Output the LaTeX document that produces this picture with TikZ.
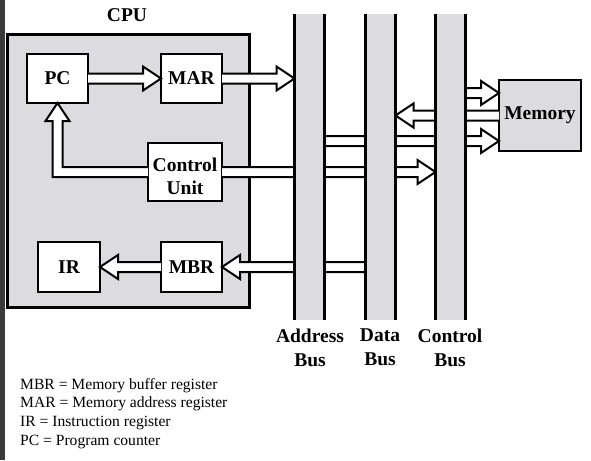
\documentclass[tikz,border=0pt]{standalone}
\usepackage{fontspec}
\setmainfont{Liberation Serif}
\usetikzlibrary{calc}
\definecolor{panel}{RGB}{220,219,223}
\definecolor{strip}{RGB}{58,58,58}
\newcommand\fatarrow[2]{%
  \filldraw[fatarr] let \p1=(#1), \p2=(#2),
    \n1={ifthenelse(\x2>\x1,\x2-18pt,\x2+18pt)} in
    (\x1,\y1+5pt) -- (\n1*1pt,\y1+5pt) -- (\n1*1pt,\y1+12pt) -- (\x2,\y1)
    -- (\n1*1pt,\y1-12pt) -- (\n1*1pt,\y1-5pt) -- (\x1,\y1-5pt);}
\begin{document}
\begin{tikzpicture}[x=1pt,y=-1pt,
  box/.style={draw=black, line width=2pt, fill=white, inner sep=0pt, outer sep=0pt},
  lbl/.style={font=\fontsize{19.5}{23}\selectfont\bfseries, inner sep=0pt},
  fatarr/.style={draw=black, fill=white, line width=2pt, line join=miter},
  busline/.style={draw=black, line width=3pt},
  busnode/.style={minimum width=30pt, minimum height=306pt, inner sep=0pt, outer sep=0pt},
  legend/.style={font=\fontsize{15.6}{18.7}\selectfont, inner sep=0pt, anchor=base west}]

\useasboundingbox (0,0) rectangle (591,460);
\fill[white] (0,0) rectangle (591,460);
\fill[strip] (0,0) rectangle (5,460);

% CPU
\node[draw=black, line width=3pt, fill=panel, minimum width=242pt, minimum height=272pt,
      inner sep=0pt, outer sep=0pt] (cpu) at (128,171) {};
\node[lbl] (cpulbl) at (127,15) {CPU};

% registers
\node[box, lbl, minimum width=61pt, minimum height=49pt] (pc) at (57.5,78.5) {PC};
\node[box, lbl, minimum width=61pt, minimum height=49pt] (mar) at (191.5,78.5) {MAR};
\node[box, minimum width=74pt, minimum height=58pt] (cu) at (185,172) {};
\node[lbl, align=center] (cutext) at (185,176) {Control\\Unit};
\node[box, lbl, minimum width=62pt, minimum height=50pt] (ir) at (69,267) {IR};
\node[box, lbl, minimum width=61pt, minimum height=50pt] (mbr) at (191.5,267) {MBR};

% memory
\node[box, lbl, fill=panel, minimum width=82pt, minimum height=71pt] (mem) at (540,115.5) {Memory};

% buses (geometry only)
\node[busnode] (abus) at (309.5,167) {};
\node[busnode] (dbus) at (380.5,167) {};
\node[busnode] (cbus) at (450.5,167) {};

% arrows
\fatarrow{pc.east}{mar.west}
\fatarrow{mar.east}{abus.west}
\fatarrow{mbr.west}{ir.east}
\fatarrow{dbus.west |- mbr.east}{mbr.east}
\fatarrow{cu.east}{cbus.west}
\fatarrow{$(cbus.east |- mem.west)+(0,-22.5)$}{mem.west}
\fatarrow{mem.west}{dbus.east}
\fatarrow{$(abus.east |- mem.west)+(0,25.5)$}{mem.west}
\filldraw[fatarr] let \p1=(cu.west), \p2=(pc.south) in
  (\x1,\y1+5pt) -- (\x2+5pt,\y1+5pt) -- (\x2+5pt,\y2-18pt) -- (\x2+12pt,\y2-18pt)
  -- (\x2,\y2) -- (\x2-12pt,\y2-18pt) -- (\x2-5pt,\y2-18pt) -- (\x2-5pt,\y1-5pt)
  -- (\x1,\y1-5pt);

% buses drawn over arrow shafts
\foreach \b in {abus,dbus,cbus}{
  \fill[panel] (\b.north west) rectangle (\b.south east);
  \draw[busline] (\b.north west) -- (\b.south west);
  \draw[busline] (\b.north east) -- (\b.south east);
}

% bus labels
\node[lbl, align=center, font=\fontsize{19.5}{24}\selectfont\bfseries, anchor=north] (alab) at (310,329) {Address\\Bus};
\node[lbl, align=center, font=\fontsize{19.5}{24}\selectfont\bfseries, anchor=north] (dlab) at (380,329) {Data\\Bus};
\node[lbl, align=center, font=\fontsize{19.5}{24}\selectfont\bfseries, anchor=north] (clab) at (450,329) {Control\\Bus};

% legend
\node[legend] (leg1) at (20,389) {MBR = Memory buffer register};
\node[legend] (leg2) at (20,407.7) {MAR = Memory address register};
\node[legend] (leg3) at (20,426.3) {IR = Instruction register};
\node[legend] (leg4) at (20,445) {PC = Program counter};
\end{tikzpicture}
\end{document}
